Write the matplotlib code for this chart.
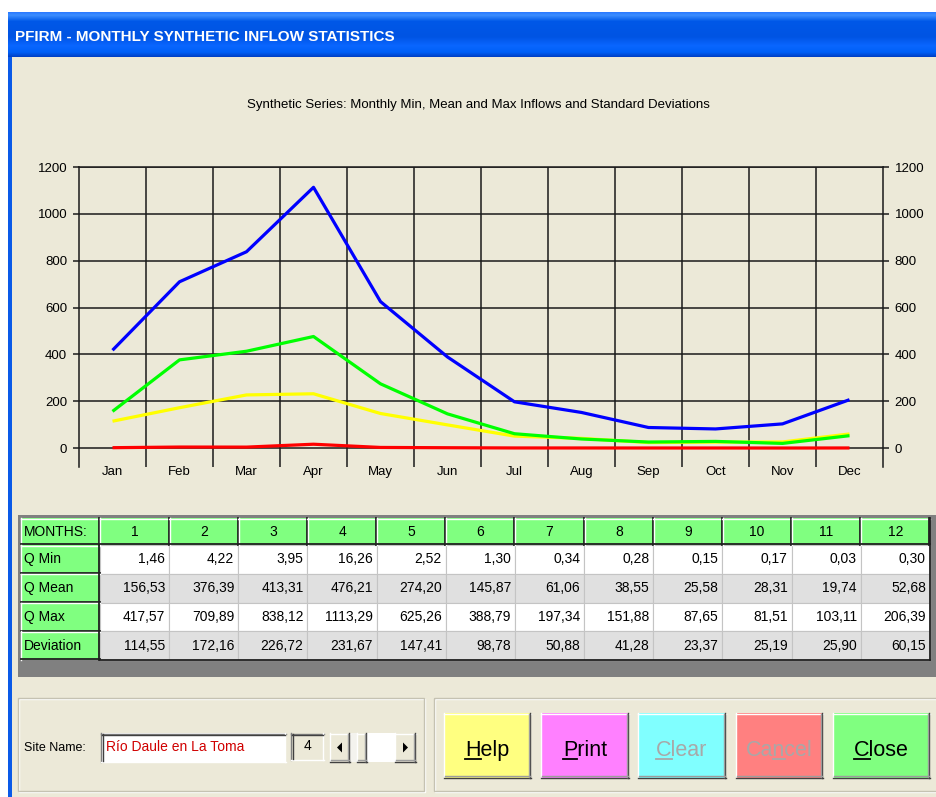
import numpy as np
import matplotlib
matplotlib.use("Agg")
import matplotlib.pyplot as plt
from matplotlib.patches import Rectangle, Polygon
from matplotlib.lines import Line2D

plt.rcParams['font.family'] = ['Liberation Sans', 'DejaVu Sans']

# ---- data ----
months = ["Jan", "Feb", "Mar", "Apr", "May", "Jun",
          "Jul", "Aug", "Sep", "Oct", "Nov", "Dec"]
q_min = [1.46, 4.22, 3.95, 16.26, 2.52, 1.30, 0.34, 0.28, 0.15, 0.17, 0.03, 0.30]
q_mean = [156.53, 376.39, 413.31, 476.21, 274.20, 145.87,
          61.06, 38.55, 25.58, 28.31, 19.74, 52.68]
q_max = [417.57, 709.89, 838.12, 1113.29, 625.26, 388.79,
         197.34, 151.88, 87.65, 81.51, 103.11, 206.39]
deviation = [114.55, 172.16, 226.72, 231.67, 147.41, 98.78,
             50.88, 41.28, 23.37, 25.19, 25.90, 60.15]
row_labels = ["Q Min", "Q Mean", "Q Max", "Deviation"]
y_ticks = [0, 200, 400, 600, 800, 1000, 1200]
buttons = ["Help", "Print", "Clear", "Cancel", "Close"]

W, H = 937, 797
BEIGE = "#ECE9D8"

fig = plt.figure(figsize=(W / 100, H / 100), dpi=100)
fig.patch.set_facecolor("white")

# background axes in pixel coordinates (y down) for the dialog chrome
ui = fig.add_axes([0, 0, 1, 1])
ui.set_xlim(0, W)
ui.set_ylim(H, 0)
ui.axis("off")
ui.set_zorder(0)


def rect(x0, y0, x1, y1, fc, ec="none", lw=0, z=1):
    ui.add_patch(Rectangle((x0, y0), x1 - x0, y1 - y0, fc=fc, ec=ec, lw=lw, zorder=z))


def hline(x0, x1, y, c, lw=1.0, z=3):
    ui.add_line(Line2D([x0, x1], [y, y], color=c, lw=lw, zorder=z))


def vline(x, y0, y1, c, lw=1.0, z=3):
    ui.add_line(Line2D([x, x], [y0, y1], color=c, lw=lw, zorder=z))


def bevel(x0, y0, x1, y1, raised=True, z=3):
    light, dark = ("white", "#404040") if raised else ("#808080", "white")
    hline(x0, x1, y0 + 0.5, light, z=z)
    vline(x0 + 0.5, y0, y1, light, z=z)
    hline(x0, x1, y1 - 0.5, dark, z=z)
    vline(x1 - 0.5, y0, y1, dark, z=z)
    if raised:
        hline(x0 + 1, x1 - 1, y1 - 1.7, "#9D9D9D", z=z)
        vline(x1 - 1.7, y0 + 1, y1 - 1, "#9D9D9D", z=z)
    else:
        hline(x0 + 1, x1 - 1, y0 + 1.7, "#404040", z=z)
        vline(x0 + 1.7, y0 + 1, y1 - 1, "#404040", z=z)


# window body + left border
rect(8, 12, W, H, BEIGE)
rect(8, 12, 12, H, "#0A5AE8", z=2)

# title bar gradient
stops_y = [0.0, 0.06, 0.2, 0.55, 0.75, 0.9, 1.0]
stops_c = ["#2C7BFF", "#3D8EFF", "#0058E8", "#0054E3", "#0A66FF", "#0060F8", "#0041C8"]
rgb = np.array([matplotlib.colors.to_rgb(c) for c in stops_c])
ys = np.linspace(0, 1, 45)
grad = np.stack([np.interp(ys, stops_y, rgb[:, k]) for k in range(3)], axis=1)
ui.imshow(grad[:, None, :], extent=(8, W, 57, 12), aspect="auto", zorder=2)
ui.text(15, 37, "PFIRM - MONTHLY SYNTHETIC INFLOW STATISTICS", color="white",
        fontsize=11, fontweight="bold", va="center", ha="left", zorder=4)

# chart title
ui.text(478, 105, "Synthetic Series: Monthly Min, Mean and Max Inflows and Standard Deviations",
        fontsize=9.5, ha="center", va="center", zorder=4)

# ---- chart ----
x = np.arange(len(months))
ax = fig.add_axes([79 / W, 1 - 467 / H, (883 - 79) / W, (467 - 167) / H])
ax.set_zorder(2)
ax.patch.set_alpha(0)
ax.set_xlim(-0.5, 11.5)
ax.set_ylim(-81, 1200)

grid_c = "#1A1A1A"
ax.set_yticks(y_ticks)
ax.set_xticks(x, months)
ax.set_xticks(np.arange(0.5, 11, 1), minor=True)
ax.grid(axis="y", which="major", color=grid_c, lw=1.1)
ax.grid(axis="x", which="minor", color=grid_c, lw=1.1)
ax.set_axisbelow(True)
for side in ["left", "right", "top"]:
    ax.spines[side].set_color(grid_c)
    ax.spines[side].set_linewidth(1.1)
ax.spines["bottom"].set_visible(False)
ax.tick_params(axis="y", left=True, right=True, labelleft=True, labelright=True,
               length=4.5, width=1.1, color=grid_c, labelsize=9.5, pad=4)
ax.tick_params(axis="x", which="both", length=0, labelsize=9.5, pad=-1)

ax.plot(x, deviation, color="#FFFF00", lw=2.3, solid_capstyle="butt", zorder=3)
ax.plot(x, q_mean, color="#00FF00", lw=2.3, solid_capstyle="butt", zorder=3)
ax.plot(x, q_max, color="#0000FF", lw=2.3, solid_capstyle="butt", zorder=3)
ax.plot(x, q_min, color="#FF0000", lw=2.3, solid_capstyle="butt", zorder=3)

# ---- statistics table ----
tx0, lab_x1, tx1 = 21, 100, 930
ty0, head_y1, ty1 = 518, 545, 660
col_w = (tx1 - lab_x1) / len(months)
row_h = (ty1 - head_y1) / len(row_labels)
rect(18, 515, 936, 677, "#808080", z=1)
table_rows = [q_min, q_mean, q_max, deviation]
GREEN = "#80FF80"


def green_cell(x0, y0, x1, y1):
    rect(x0, y0, x1, y1, GREEN, z=2)
    hline(x0, x1, y0 + 0.5, "white")
    vline(x0 + 0.5, y0, y1, "white")
    hline(x0, x1, y1 - 0.6, "#202020", lw=1.3)
    vline(x1 - 0.6, y0, y1, "#202020", lw=1.3)


green_cell(tx0, ty0, lab_x1, head_y1)
ui.text(tx0 + 3, (ty0 + head_y1) / 2, "MONTHS:", fontsize=10, va="center", zorder=4)
for j in range(len(months)):
    cx0 = lab_x1 + j * col_w
    green_cell(cx0, ty0, cx0 + col_w, head_y1)
    ui.text(cx0 + col_w / 2, (ty0 + head_y1) / 2, str(j + 1), fontsize=10,
            ha="center", va="center", zorder=4)

for i, (lab, vals) in enumerate(zip(row_labels, table_rows)):
    ry0 = head_y1 + i * row_h
    ry1 = ry0 + row_h
    green_cell(tx0, ry0, lab_x1, ry1)
    ui.text(tx0 + 3, (ry0 + ry1) / 2, lab, fontsize=10, va="center", zorder=4)
    fill = "white" if i % 2 == 0 else "#E0E0E0"
    for j, v in enumerate(vals):
        cx0 = lab_x1 + j * col_w
        rect(cx0, ry0, cx0 + col_w, ry1, fill, ec="#C4C4C4", lw=0.8, z=2)
        ui.text(cx0 + col_w - 4, (ry0 + ry1) / 2, f"{v:.2f}".replace(".", ","),
                fontsize=10, ha="right", va="center", zorder=4)
hline(lab_x1, tx1, ty1, "#202020", lw=1.3)
vline(tx1, ty0, ty1, "#202020", lw=1.3)

# ---- bottom group boxes ----
for gx0, gx1 in [(18, 424), (434, 940)]:
    ui.add_patch(Rectangle((gx0 + 1, 699), gx1 - gx0, 93, fc="none", ec="white", lw=1, zorder=2))
    ui.add_patch(Rectangle((gx0, 698), gx1 - gx0, 93, fc="none", ec="#C5C2B2", lw=1, zorder=2))

ui.text(24, 748, "Site Name:", fontsize=9, va="center", zorder=4)
rect(101, 733, 286, 762, "white", z=2)
bevel(101, 733, 286, 762, raised=False)
ui.text(106, 747, "Río Daule en La Toma", fontsize=10, color="#D00000", va="center", zorder=4)

rect(291, 733, 324, 760, BEIGE, z=2)
bevel(291, 733, 324, 760, raised=False)
ui.text(308, 746, "4", fontsize=10, ha="center", va="center", zorder=4)

# scroll bar
rect(330, 733, 416, 762, "white", z=2)
rect(350, 733, 357, 762, "#F4F3EE", z=2)
for bx0, bx1 in [(330, 350), (357, 367), (395, 416)]:
    rect(bx0, 733, bx1, 762, BEIGE, z=2)
    bevel(bx0, 733, bx1, 762)
ui.add_patch(Polygon([(337, 747.5), (342, 742.5), (342, 752.5)], fc="black", zorder=4))
ui.add_patch(Polygon([(408, 747.5), (403, 742.5), (403, 752.5)], fc="black", zorder=4))

# buttons
btn_x = [(444, 531), (541, 629), (638, 726), (736, 823), (833, 930)]
btn_fc = ["#FFFF80", "#FF80FF", "#80FFFF", "#FF8080", "#80FF80"]
btn_tc = ["black", "black", "#A8A8A8", "#A8A8A8", "black"]
underline_idx = [0, 0, 0, 2, 0]
fig.canvas.draw()
renderer = fig.canvas.get_renderer()
for (bx0, bx1), lab, fc, tc, k in zip(btn_x, buttons, btn_fc, btn_tc, underline_idx):
    rect(bx0, 713, bx1, 778, fc, z=2)
    bevel(bx0, 713, bx1, 778)
    cx = (bx0 + bx1) / 2
    t = ui.text(cx, 756, lab, fontsize=15.5, color=tc, ha="center", va="baseline", zorder=4)
    full = t.get_window_extent(renderer)
    tmp = ui.text(0, 0, lab[:k], fontsize=15.5)
    pre = tmp.get_window_extent(renderer).width if k > 0 else 0.0
    tmp.remove()
    tmp = ui.text(0, 0, lab[:k + 1], fontsize=15.5)
    cur = tmp.get_window_extent(renderer).width
    tmp.remove()
    hline(full.x0 + pre, full.x0 + cur, 758.5, tc, lw=1.3, z=4)

fig.savefig("out.png", dpi=100, facecolor=fig.get_facecolor())
